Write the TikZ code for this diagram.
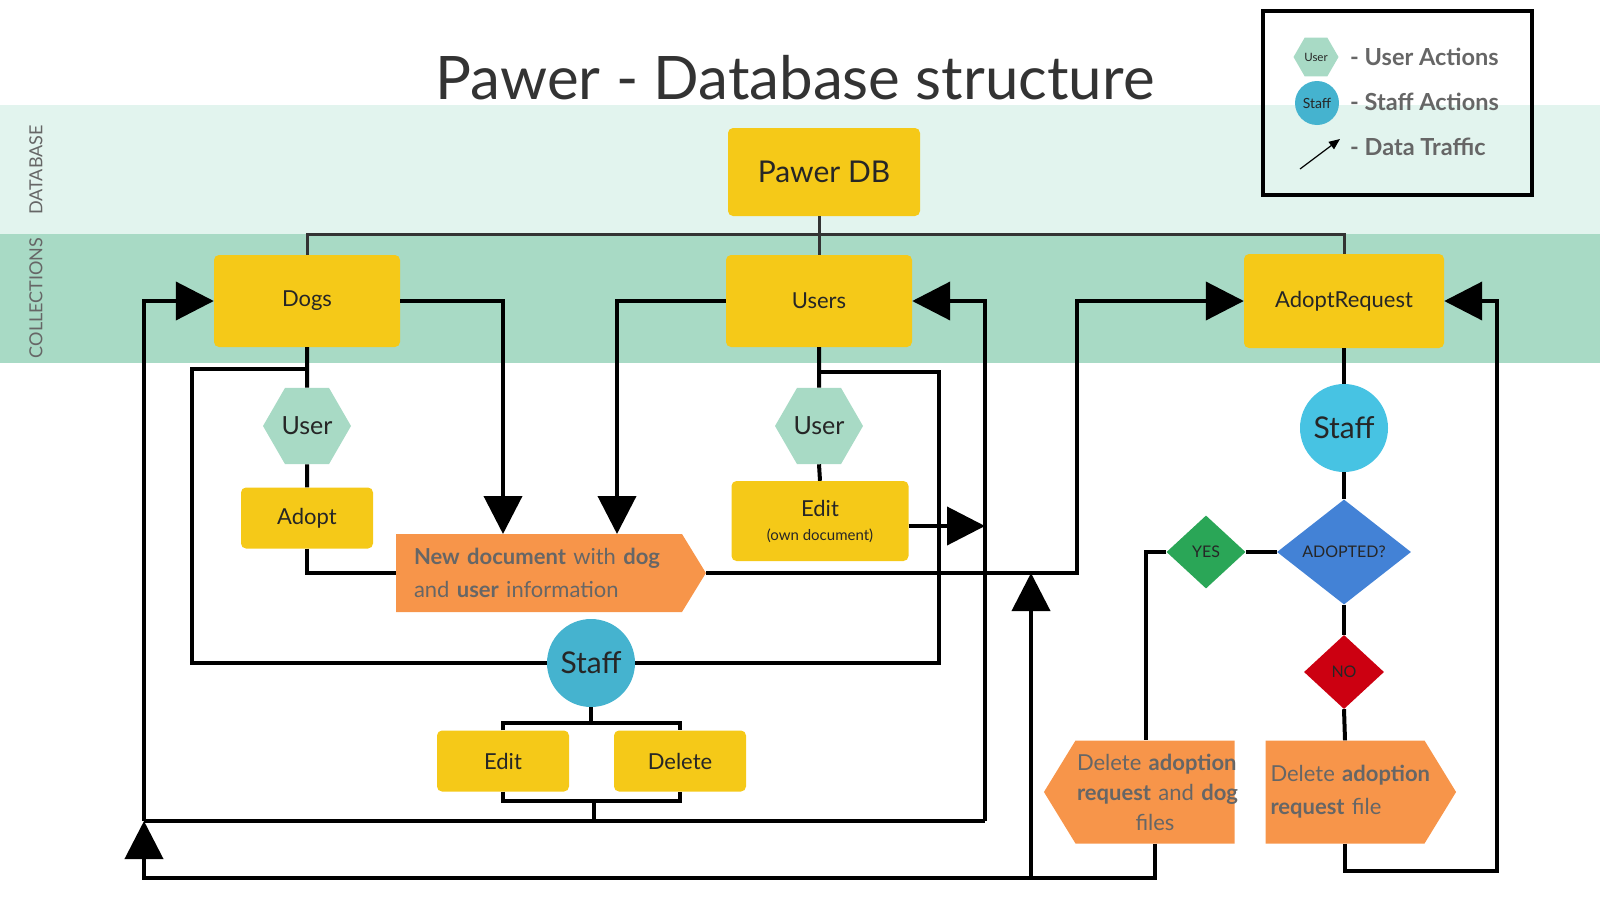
\documentclass[tikz,border=0pt]{standalone}
\usepackage{fontspec}
\setmainfont{Lato}
\usetikzlibrary{arrows.meta,shapes.geometric,shapes.symbols}

\definecolor{bandlight}{RGB}{226,244,238}
\definecolor{banddark}{RGB}{168,218,197}
\definecolor{dbyellow}{RGB}{245,201,24}
\definecolor{docorange}{RGB}{247,149,74}
\definecolor{staffblue}{RGB}{69,179,207}
\definecolor{staffcyan}{RGB}{71,195,227}
\definecolor{askblue}{RGB}{67,130,214}
\definecolor{yesgreen}{RGB}{42,166,87}
\definecolor{nored}{RGB}{204,0,17}
\definecolor{inkgray}{RGB}{102,102,102}
\definecolor{inkdark}{RGB}{38,38,38}

\newcommand{\fsz}[2]{\fontsize{#1}{#2}\selectfont}

\begin{document}
\begin{tikzpicture}
  [x=1pt,y=-1pt,
   every node/.style={text=inkdark,inner sep=0pt},
   collbox/.style={fill=dbyellow,rounded corners=5pt,minimum width=186,minimum height=92,font=\fsz{22}{26}},
   actbox/.style={fill=dbyellow,rounded corners=5pt,minimum width=132,minimum height=61,font=\fsz{22}{26}},
   userhex/.style={fill=banddark,regular polygon,regular polygon sides=6,minimum size=88,font=\fsz{25}{30}},
   staffdot/.style={circle,fill=staffblue,minimum size=88,font=\fsz{30}{36}},
   decision/.style={diamond,fill=askblue,font=\fsz{16}{19}},
   docsig/.style={signal,signal pointer angle=117,fill=docorange,text=inkgray,font=\fsz{22}{33}},
   wire/.style={line width=4pt},
   feed/.style={line width=4pt,-{Triangle[length=38pt,width=38pt]}},
   dbwire/.style={line width=3pt,black!80},
   keytext/.style={text=inkgray,font=\bfseries\fsz{23.5}{28},anchor=west}]
  \useasboundingbox (0,0) rectangle (1600,900);

  % bands
  \fill[bandlight] (0,105) rectangle (1600,234);
  \fill[banddark] (0,234) rectangle (1600,363);
  \node[rotate=90,text=inkgray,font=\fsz{18}{22}] (dblabel) at (36,170) {DATABASE};
  \node[rotate=90,text=inkgray,font=\fsz{18}{22}] (colllabel) at (36,298) {COLLECTIONS};
  \node[anchor=base,text=black!80,font=\fsz{60}{72}] (title) at (795,99) {Pawer - Database structure};

  % legend
  \node[draw,line width=4pt,minimum width=269,minimum height=184] (legend) at (1397,103) {};
  \node[userhex,minimum size=45,font=\fsz{11.5}{14}] (lguser) at (1316,57) {User};
  \node[staffdot,minimum size=44,font=\fsz{14}{16}] (lgstaff) at (1317,103) {Staff};
  \coordinate (lgtail) at (1300,169);
  \coordinate (lghead) at (1340,139);
  \draw[line width=1.2pt,-{Triangle[length=11pt,width=9pt]}] (lgtail) -- (lghead);
  \node[keytext] (lgusertext) at (1350,57) {- User Actions};
  \node[keytext] (lgstafftext) at (1350,102) {- Staff Actions};
  \node[keytext] (lgdatatext) at (1350,147) {- Data Traffic};

  % database and collections
  \node[fill=dbyellow,rounded corners=5pt,minimum width=192,minimum height=88,font=\fsz{30}{36}] (pawerdb) at (824,172) {Pawer DB};
  \node[collbox] (dogs) at (307,301) {Dogs};
  \node[collbox] (users) at (819,301) {Users};
  \node[collbox,minimum width=200,minimum height=94] (adoptreq) at (1344,301) {AdoptRequest};

  % dogs and users side
  \node[userhex] (userdogs) at (307,426) {User};
  \node[actbox] (adopt) at (307,518) {Adopt};
  \node[userhex] (userusers) at (819,426) {User};
  \node[actbox,minimum width=177,minimum height=80,align=center,font=\fsz{22}{24}] (editown) at (820,521) {Edit\\{\fsz{15}{18}(own document)}};
  \node[docsig,signal to=east,minimum height=78,text width=250,inner xsep=18pt,align=left] (newdoc) at (539,573)
    {\mbox{\textbf{New document} with \textbf{dog}}\\\mbox{and \textbf{user} information}};
  \node[staffdot] (staffmid) at (591,663) {Staff};
  \node[actbox] (editstaff) at (503,761) {Edit};
  \node[actbox] (delstaff) at (680,761) {Delete};

  % adoption requests
  \node[staffdot,fill=staffcyan] (staffreq) at (1344,428) {Staff};
  \node[decision,minimum width=134,minimum height=105] (adopted) at (1344,552) {ADOPTED?};
  \node[decision,fill=yesgreen,minimum width=79,minimum height=73] (yes) at (1206,552) {YES};
  \node[decision,fill=nored,minimum width=80,minimum height=74] (no) at (1344,672) {NO};
  \node[docsig,signal to=west,minimum height=103,text width=156,inner xsep=1.5pt,align=center,font=\fsz{22}{30}] (delboth) at (1155,792)
    {\mbox{Delete \textbf{adoption}}\\\mbox{\textbf{request} and \textbf{dog}}\\files};
  \node[docsig,signal to=east,minimum height=103,text width=149,inner xsep=5pt,align=left] (delfile) at (1345,792)
    {\mbox{Delete \textbf{adoption}}\\\mbox{\textbf{request} file}};

  % database to collections
  \coordinate (dbbus) at (819,234);
  \draw[dbwire] (pawerdb.south -| dbbus) -- (dbbus);
  \draw[dbwire] (dogs.north) |- (dbbus) -| (adoptreq.north);
  \draw[dbwire] (dbbus) -- (users.north);

  % collections to new document
  \coordinate (dogsin) at (503,534);
  \coordinate (usersin) at (617,534);
  \draw[feed] (dogs.east) -| (dogsin);
  \draw[feed] (users.west) -| (usersin);
  \draw[wire] (dogs.south) -- (userdogs.north);
  \draw[wire] (userdogs.south) -- (adopt.north);
  \draw[wire] (adopt.south) |- (newdoc.west);
  \coordinate (reqrail) at (1077,301);
  \draw[feed] (newdoc.east) -| (reqrail) -- (adoptreq.west);

  % users side
  \draw[wire] (users.south) -- (userusers.north);
  \draw[wire] (userusers.south) -- (editown.north);

  % staff on dogs and users
  \coordinate (dogstap) at (307,369);
  \coordinate (userstap) at (819,372);
  \draw[wire] (dogstap) -- (192,369) |- (staffmid.west);
  \draw[wire] (userstap) -- (939,372) |- (staffmid.east);
  \coordinate (staffsplit) at (591,723);
  \coordinate (staffjoin) at (594,801);
  \draw[wire] (staffmid.south) -- (staffsplit);
  \draw[wire] (editstaff.north) |- (staffsplit) -| (delstaff.north);
  \draw[wire] (editstaff.south) |- (staffjoin) -| (delstaff.south);

  % changes back to the collections
  \coordinate (backleft) at (144,821);
  \coordinate (backright) at (985,821);
  \coordinate (editout) at ([yshift=-5pt]editown.east);
  \draw[wire] (staffjoin) -- (staffjoin |- backleft);
  \draw[wire] (backleft) -- (backright);
  \draw[feed] (backleft) |- (dogs.west);
  \draw[feed] (backright) |- (users.east);
  \draw[feed] (editout) -- (editout -| backright);

  % adoption request handling
  \draw[wire] (adoptreq.south) -- (staffreq.north);
  \draw[wire] (staffreq.south) -- (adopted.north);
  \draw[wire] (adopted.west) -- (yes.east);
  \coordinate (yesdrop) at ([xshift=-9pt]delboth.north);
  \draw[wire] (yes.west) -| (yesdrop);
  \draw[wire] (adopted.south) -- (no.north);
  \draw[wire] (no.south) -- (delfile.north);
  \coordinate (floorleft) at (144,878);
  \coordinate (floorrise) at (1031,878);
  \draw[feed] (delboth.south) |- (floorleft) -- (backleft);
  \draw[feed] (floorrise) -- (floorrise |- newdoc.east);
  \coordinate (reqback) at (1497,871);
  \draw[feed] (delfile.south) |- (reqback) |- (adoptreq.east);
\end{tikzpicture}
\end{document}
